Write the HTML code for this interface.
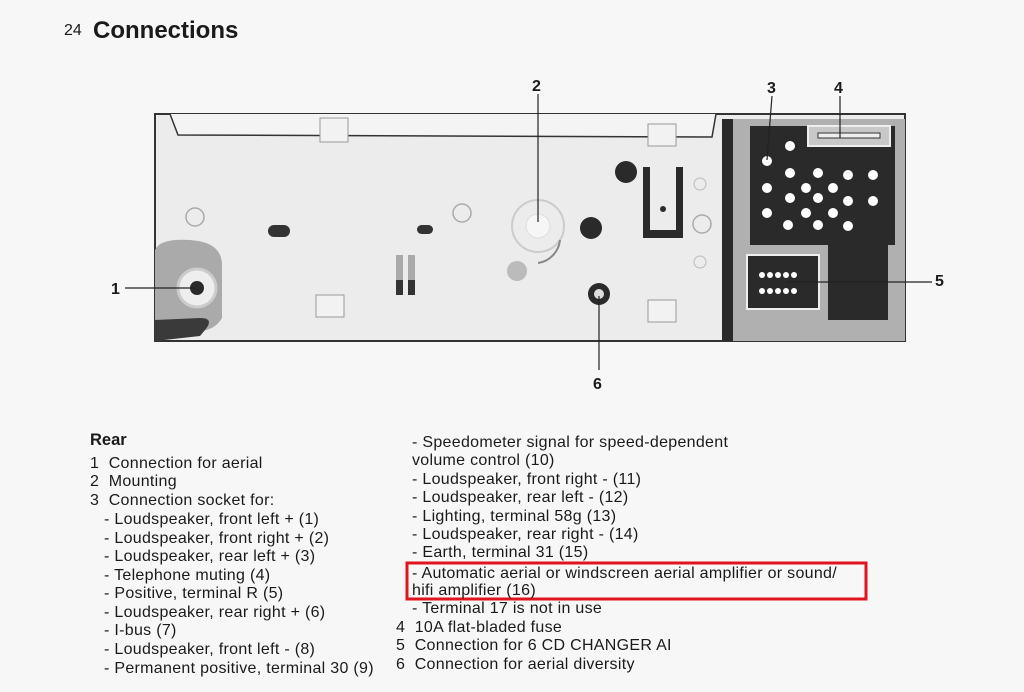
<!DOCTYPE html>
<html><head><meta charset="utf-8"><style>
body{margin:0;width:1024px;height:692px;background:#f7f7f7;position:relative;overflow:hidden;font-family:"Liberation Sans",sans-serif;color:#1a1a1a}
.t{position:absolute;font-size:16px;letter-spacing:0.3px;white-space:nowrap;line-height:18px}
</style></head><body>
<div class="t" style="left:64px;top:22px;font-size:16px;letter-spacing:0">24</div>
<div class="t" style="left:93px;top:17px;font-size:24px;letter-spacing:0;font-weight:bold;line-height:28px">Connections</div>
<svg width="1024" height="692" style="position:absolute;left:0;top:0">
<rect x="155" y="114" width="750" height="227" fill="#ececec" stroke="#333" stroke-width="2"/>
<polyline points="170,114 178,135 712,137 716,114" fill="#f4f4f4" stroke="#333" stroke-width="1.5"/>
<rect x="320" y="118" width="28" height="24" fill="#f2f2f2" stroke="#999"/>
<rect x="648" y="124" width="28" height="22" fill="#f2f2f2" stroke="#999"/>
<rect x="316" y="295" width="28" height="22" fill="#f2f2f2" stroke="#999"/>
<rect x="648" y="300" width="28" height="22" fill="#f2f2f2" stroke="#999"/>
<path d="M155,341 L155,250 Q160,238 190,240 Q222,242 222,265 L222,318 Q215,330 200,331 L155,332 Z" fill="#aaa"/>
<path d="M155,341 L155,320 L200,318 Q215,318 205,330 L200,336 Z" fill="#3a3a3a"/>
<circle cx="197" cy="288" r="19" fill="#eee" stroke="#ccc" stroke-width="3"/>
<circle cx="197" cy="288" r="7" fill="#2a2a2a"/>
<circle cx="195" cy="217" r="9" fill="none" stroke="#aaa" stroke-width="1.5"/>
<circle cx="462" cy="213" r="9" fill="none" stroke="#aaa" stroke-width="1.5"/>
<circle cx="702" cy="224" r="9" fill="none" stroke="#aaa" stroke-width="1.5"/>
<rect x="268" y="225" width="22" height="12" rx="6" fill="#333"/>
<rect x="417" y="225" width="16" height="9" rx="4.5" fill="#333"/>
<circle cx="538" cy="226" r="26" fill="none" stroke="#ccc" stroke-width="2"/>
<circle cx="538" cy="226" r="12" fill="#f6f6f6" stroke="#ddd"/>
<path d="M560,240 A26,26 0 0 1 538,263" fill="none" stroke="#888" stroke-width="2"/>
<circle cx="591" cy="228" r="11" fill="#2a2a2a"/>
<circle cx="626" cy="172" r="11" fill="#2a2a2a"/>
<circle cx="517" cy="271" r="10" fill="#bbb"/>
<path d="M643,167 L650,167 L650,230 L676,230 L676,167 L683,167 L683,238 L643,238 Z" fill="#2a2a2a"/>
<circle cx="663" cy="209" r="3" fill="#2a2a2a"/>
<circle cx="700" cy="184" r="6" fill="none" stroke="#bbb"/><circle cx="700" cy="262" r="6" fill="none" stroke="#bbb"/>
<rect x="396" y="255" width="7" height="40" fill="#aaa"/><rect x="408" y="255" width="7" height="40" fill="#aaa"/>
<rect x="396" y="280" width="7" height="15" fill="#333"/><rect x="408" y="280" width="7" height="15" fill="#333"/>
<circle cx="599" cy="294" r="11" fill="#2a2a2a"/><circle cx="599" cy="294" r="5" fill="#ddd"/>
<rect x="722" y="119" width="11" height="222" fill="#2a2a2a"/>
<rect x="733" y="119" width="172" height="222" fill="#b0b0b0"/>
<path d="M750,126 L895,126 L895,245 L888,245 L888,320 L828,320 L828,245 L750,245 Z" fill="#2a2a2a"/>
<rect x="808" y="126" width="82" height="20" fill="#c8c8c8" stroke="#eee" stroke-width="2"/>
<rect x="818" y="133" width="62" height="5" fill="#eee" stroke="#333"/>
<rect x="747" y="255" width="72" height="54" fill="#2a2a2a" stroke="#eee" stroke-width="2"/>
<g fill="#fff">
<circle cx="790" cy="146" r="5"/><circle cx="767" cy="161" r="5"/><circle cx="790" cy="173" r="5"/><circle cx="818" cy="173" r="5"/><circle cx="848" cy="175" r="5"/>
<circle cx="767" cy="188" r="5"/><circle cx="806" cy="188" r="5"/><circle cx="833" cy="188" r="5"/><circle cx="790" cy="198" r="5"/><circle cx="818" cy="198" r="5"/><circle cx="848" cy="201" r="5"/>
<circle cx="767" cy="213" r="5"/><circle cx="806" cy="213" r="5"/><circle cx="833" cy="213" r="5"/><circle cx="788" cy="225" r="5"/><circle cx="818" cy="225" r="5"/><circle cx="848" cy="226" r="5"/>
<circle cx="873" cy="175" r="5"/><circle cx="873" cy="201" r="5"/>
<circle cx="762" cy="275" r="3"/><circle cx="770" cy="275" r="3"/><circle cx="778" cy="275" r="3"/><circle cx="786" cy="275" r="3"/><circle cx="794" cy="275" r="3"/>
<circle cx="762" cy="291" r="3"/><circle cx="770" cy="291" r="3"/><circle cx="778" cy="291" r="3"/><circle cx="786" cy="291" r="3"/><circle cx="794" cy="291" r="3"/>
</g>
<g stroke="#222" stroke-width="1.2">
<line x1="125" y1="288" x2="195" y2="288"/>
<line x1="538" y1="94" x2="538" y2="222"/>
<line x1="772" y1="96" x2="767" y2="160"/>
<line x1="840" y1="96" x2="840" y2="138"/>
<line x1="786" y1="282" x2="932" y2="282"/>
<line x1="599" y1="296" x2="599" y2="370"/>
</g>
<g font-family="Liberation Sans" font-weight="bold" font-size="16" fill="#1a1a1a">
<text x="111" y="294">1</text><text x="532" y="91">2</text><text x="767" y="93">3</text><text x="834" y="93">4</text><text x="935" y="286">5</text><text x="593" y="389">6</text>
</g>
<rect x="407" y="563" width="459" height="36" fill="none" stroke="#e0141e" stroke-width="3"/>
</svg>
<div class="t" style="left:90px;top:431px;font-size:16.5px;letter-spacing:0;font-weight:bold">Rear</div>
<div class="t" style="left:90px;top:455px">1&nbsp; Connection for aerial</div>
<div class="t" style="left:90px;top:473px">2&nbsp; Mounting</div>
<div class="t" style="left:90px;top:492px">3&nbsp; Connection socket for:</div>
<div class="t" style="left:104px;top:511px">- Loudspeaker, front left + (1)</div>
<div class="t" style="left:104px;top:530px">- Loudspeaker, front right + (2)</div>
<div class="t" style="left:104px;top:548px">- Loudspeaker, rear left + (3)</div>
<div class="t" style="left:104px;top:567px">- Telephone muting (4)</div>
<div class="t" style="left:104px;top:585px">- Positive, terminal R (5)</div>
<div class="t" style="left:104px;top:604px">- Loudspeaker, rear right + (6)</div>
<div class="t" style="left:104px;top:622px">- I-bus (7)</div>
<div class="t" style="left:104px;top:641px">- Loudspeaker, front left - (8)</div>
<div class="t" style="left:104px;top:660px">- Permanent positive, terminal 30 (9)</div>
<div class="t" style="left:412px;top:434px">- Speedometer signal for speed-dependent</div>
<div class="t" style="left:412px;top:452px">volume control (10)</div>
<div class="t" style="left:412px;top:471px">- Loudspeaker, front right - (11)</div>
<div class="t" style="left:412px;top:489px">- Loudspeaker, rear left - (12)</div>
<div class="t" style="left:412px;top:508px">- Lighting, terminal 58g (13)</div>
<div class="t" style="left:412px;top:526px">- Loudspeaker, rear right - (14)</div>
<div class="t" style="left:412px;top:544px">- Earth, terminal 31 (15)</div>
<div class="t" style="left:412px;top:565px">- Automatic aerial or windscreen aerial amplifier or sound/</div>
<div class="t" style="left:412px;top:582px">hifi amplifier (16)</div>
<div class="t" style="left:412px;top:600px">- Terminal 17 is not in use</div>
<div class="t" style="left:396px;top:619px">4&nbsp; 10A flat-bladed fuse</div>
<div class="t" style="left:396px;top:637px">5&nbsp; Connection for 6 CD CHANGER AI</div>
<div class="t" style="left:396px;top:656px">6&nbsp; Connection for aerial diversity</div>
</body></html>
